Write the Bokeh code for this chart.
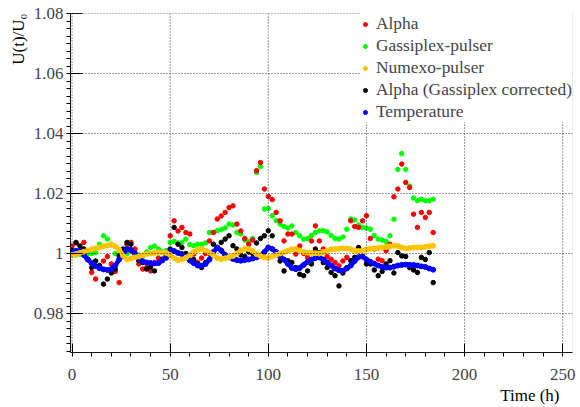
import numpy as np
from bokeh.plotting import figure
from bokeh.models import (Range1d, FixedTicker, PrintfTickFormatter, Title,
                          Legend, LegendItem, Span, BoxAnnotation)
from bokeh.embed import file_html
from bokeh.resources import INLINE

# Time of each measurement (h)
hours = list(range(0, 186, 2))

# Relative gain U(t)/U0 of each signal
alpha = [
    1.0025, 1.0035, 1.0000, 1.0037, 0.9980, 0.9937, 0.9915, 0.9950, 0.9975, 0.9990,
    0.9965, 0.9940, 0.9903, 0.9995, 1.0030, 1.0037, 1.0015, 0.9965, 0.9948, 0.9953,
    0.9942, 0.9970, 0.9985, 0.9976, 1.0000, 1.0059, 1.0109, 1.0075, 1.0087, 1.0070,
    1.0065, 0.9998, 0.9970, 0.9985, 1.0000, 1.0042, 1.0070, 1.0115, 1.0125, 1.0137,
    1.0153, 1.0159, 1.0098, 1.0075, 1.0050, 1.0031, 1.0045, 1.0276, 1.0303, 1.0215,
    1.0190, 1.0180, 1.0137, 1.0109, 1.0042, 1.0065, 1.0065, 0.9998, 1.0025, 1.0000,
    0.9987, 1.0042, 1.0092, 1.0042, 1.0015, 0.9990, 0.9981, 0.9970, 0.9959, 0.9975,
    0.9987, 1.0109, 1.0090, 1.0087, 1.0109, 1.0126, 1.0050, 1.0015, 0.9981, 0.9976,
    1.0009, 1.0031, 1.0189, 1.0215, 1.0298, 1.0237, 1.0220, 1.0131, 1.0087, 1.0137,
    1.0120, 1.0137, 1.0070,
]

gassiplex = [
    1.0005, 0.9995, 0.9998, 1.0003, 1.0000, 1.0000, 1.0003, 1.0031, 1.0059, 1.0048,
    1.0031, 1.0000, 0.9985, 0.9990, 1.0000, 1.0009, 1.0012, 0.9995, 0.9990, 1.0005,
    1.0020, 1.0025, 1.0015, 1.0005, 1.0010, 1.0037, 1.0040, 1.0035, 1.0037, 1.0048,
    1.0030, 1.0026, 1.0031, 1.0030, 1.0035, 1.0070, 1.0070, 1.0076, 1.0080, 1.0085,
    1.0098, 1.0095, 1.0070, 1.0065, 1.0045, 1.0040, 1.0050, 1.0270, 1.0290, 1.0148,
    1.0150, 1.0126, 1.0110, 1.0098, 1.0090, 1.0085, 1.0092, 1.0070, 1.0059, 1.0048,
    1.0050, 1.0060, 1.0070, 1.0076, 1.0076, 1.0072, 1.0060, 1.0050, 1.0048, 1.0055,
    1.0081, 1.0115, 1.0112, 1.0095, 1.0087, 1.0085, 1.0081, 1.0060, 1.0048, 1.0045,
    1.0040, 1.0059, 1.0114, 1.0280, 1.0333, 1.0280, 1.0225, 1.0185, 1.0176, 1.0181,
    1.0176, 1.0176, 1.0181,
]

numexo = [
    0.9995, 0.9998, 1.0002, 1.0006, 1.0010, 1.0014, 1.0017, 1.0020, 1.0024, 1.0027,
    1.0029, 1.0024, 1.0012, 0.9993, 0.9980, 0.9983, 0.9987, 0.9990, 0.9994, 0.9998,
    1.0000, 1.0002, 1.0003, 1.0003, 1.0002, 0.9995, 0.9985, 0.9978, 0.9980, 0.9986,
    0.9995, 1.0005, 1.0012, 1.0015, 1.0010, 1.0003, 0.9995, 0.9985, 0.9981, 0.9984,
    0.9988, 0.9992, 1.0000, 1.0010, 1.0015, 1.0015, 1.0008, 0.9998, 0.9992, 0.9987,
    0.9986, 0.9990, 0.9995, 1.0000, 1.0004, 1.0010, 1.0014, 1.0015, 1.0010, 1.0005,
    1.0003, 1.0002, 1.0001, 1.0000, 1.0005, 1.0010, 1.0014, 1.0015, 1.0016, 1.0017,
    1.0017, 1.0014, 1.0010, 1.0008, 1.0010, 1.0013, 1.0016, 1.0017, 1.0018, 1.0020,
    1.0022, 1.0024, 1.0026, 1.0025, 1.0020, 1.0017, 1.0018, 1.0020, 1.0020, 1.0020,
    1.0022, 1.0024, 1.0026,
]

alpha_corrected = [
    1.0010, 1.0037, 1.0025, 1.0015, 0.9981, 0.9953, 0.9975, 0.9960, 0.9898, 0.9915,
    0.9935, 0.9948, 0.9993, 1.0015, 1.0037, 1.0031, 1.0000, 0.9976, 0.9970, 0.9948,
    0.9955, 0.9942, 0.9970, 0.9981, 0.9985, 1.0015, 1.0087, 1.0031, 1.0020, 1.0000,
    0.9976, 0.9980, 0.9965, 0.9953, 0.9970, 1.0000, 1.0031, 1.0020, 1.0037, 1.0048,
    1.0059, 1.0026, 1.0015, 0.9995, 0.9990, 1.0005, 1.0000, 1.0035, 1.0050, 1.0059,
    1.0076, 1.0059, 1.0003, 0.9975, 0.9942, 0.9976, 0.9970, 0.9953, 0.9931, 0.9926,
    0.9942, 0.9965, 1.0015, 1.0003, 0.9970, 0.9953, 0.9937, 0.9926, 0.9892, 0.9935,
    0.9953, 0.9976, 0.9987, 1.0020, 0.9990, 0.9965, 0.9965, 0.9945, 0.9926, 0.9940,
    0.9965, 0.9976, 0.9935, 1.0003, 0.9992, 0.9990, 0.9953, 0.9945, 0.9937, 0.9987,
    0.9980, 1.0003, 0.9903,
]

temperature = [
    1.0005, 1.0009, 1.0008, 0.9995, 0.9980, 0.9968, 0.9958, 0.9952, 0.9947, 0.9945,
    0.9948, 0.9960, 0.9980, 0.9998, 1.0015, 1.0012, 1.0000, 0.9982, 0.9974, 0.9970,
    0.9968, 0.9967, 0.9968, 0.9978, 0.9990, 1.0008, 1.0008, 1.0002, 0.9998, 0.9990,
    0.9978, 0.9968, 0.9960, 0.9959, 0.9965, 0.9980, 1.0005, 1.0020, 1.0010, 0.9995,
    0.9987, 0.9982, 0.9978, 0.9976, 0.9978, 0.9980, 0.9983, 0.9987, 0.9992, 1.0005,
    1.0020, 1.0015, 1.0005, 0.9990, 0.9980, 0.9965, 0.9952, 0.9948, 0.9952, 0.9962,
    0.9972, 0.9980, 0.9985, 0.9987, 0.9980, 0.9970, 0.9960, 0.9950, 0.9944, 0.9943,
    0.9950, 0.9960, 0.9975, 0.9988, 0.9990, 0.9980, 0.9972, 0.9966, 0.9960, 0.9955,
    0.9953, 0.9953, 0.9956, 0.9960, 0.9962, 0.9963, 0.9962, 0.9962, 0.9960, 0.9957,
    0.9955, 0.9950, 0.9946,
]

x_ticks = [0, 50, 100, 150, 200, 250]
y_ticks = [0.98, 1.00, 1.02, 1.04, 1.06, 1.08]

FONT = "Liberation Serif"
RED, GREEN, GOLD, BLACK, BLUE = "#ff0000", "#00ff00", "#ffc400", "#000000", "#0000ff"

p = figure(width=580, height=407, output_backend="svg", toolbar_location=None,
           x_range=Range1d(-0.8, 255), y_range=Range1d(0.967, 1.08),
           min_border_left=70, min_border_right=8,
           min_border_top=13, min_border_bottom=55,
           background_fill_color="white", border_fill_color="white")

xticker = FixedTicker(ticks=x_ticks, minor_ticks=list(range(0, 260, 10)))
yticker = FixedTicker(ticks=y_ticks,
                      minor_ticks=[float(v) for v in np.arange(0.9675, 1.0801, 0.0025)])

xax = p.xaxis[0]
yax = p.yaxis[0]
xax.ticker = xticker
yax.ticker = yticker
yax.formatter = PrintfTickFormatter(format="%g")

xax.major_tick_in = 9
xax.major_tick_out = 0
xax.major_label_text_font = FONT
xax.major_label_text_font_size = "17px"
xax.major_label_standoff = 12

yax.major_tick_in = 12
yax.major_tick_out = 0
yax.major_label_text_font = FONT
yax.major_label_text_font_size = "17px"
yax.major_label_standoff = 3

# dotted grid drawn as spans at the major tick values
p.xgrid.grid_line_color = None
p.ygrid.grid_line_color = None
for v in x_ticks:
    p.add_layout(Span(location=v, dimension="height", line_color="black",
                      line_dash="1 2", line_width=1, line_alpha=0.8))
for v in y_ticks:
    p.add_layout(Span(location=v, dimension="width", line_color="black",
                      line_dash="1 2", line_width=1, line_alpha=0.8))

# thin grey frame around the data area
p.outline_line_color = None
p.add_layout(BoxAnnotation(fill_alpha=0, line_color="#888888", line_width=1))

# scattered gain measurements
r_green = p.scatter(hours, gassiplex, size=4.5, color=GREEN)
r_red = p.scatter(hours, alpha, size=4.5, color=RED)
r_black = p.scatter(hours, alpha_corrected, size=4.5, color=BLACK)

# dense slowly varying signals drawn as thick beaded curves
p.line(hours, temperature, line_width=4.5, color=BLUE)
r_blue = p.scatter(hours, temperature, size=5, color=BLUE)
p.line(hours, numexo, line_width=4.5, color=GOLD)
r_gold = p.scatter(hours, numexo, size=5, color=GOLD)

legend = Legend(items=[
    LegendItem(label="Alpha", renderers=[r_red]),
    LegendItem(label="Gassiplex-pulser", renderers=[r_green]),
    LegendItem(label="Numexo-pulser", renderers=[r_gold]),
    LegendItem(label="Alpha (Gassiplex corrected)", renderers=[r_black]),
    LegendItem(label="Temperature", renderers=[r_blue]),
], location="top_right")
legend.margin = 0
legend.padding = 1
legend.spacing = 1
legend.glyph_width = 10
legend.glyph_height = 10
legend.label_height = 19
legend.label_standoff = 6
legend.label_text_font = FONT
legend.label_text_font_size = "17.4px"
legend.border_line_color = None
legend.background_fill_color = "white"
legend.background_fill_alpha = 1.0
p.add_layout(legend)

# axis titles at the far ends of the axes
p.add_layout(Title(text="Time (h)", align="right", offset=13, standoff=3,
                   text_font=FONT, text_font_size="17px", text_font_style="normal",
                   text_color="black"), "below")
p.add_layout(Title(text="U(t)/U\u2080", align="right", offset=0, standoff=5,
                   text_font=FONT, text_font_size="17px", text_font_style="normal",
                   text_color="black"), "left")

open("out.html", "w").write(file_html(p, INLINE))
